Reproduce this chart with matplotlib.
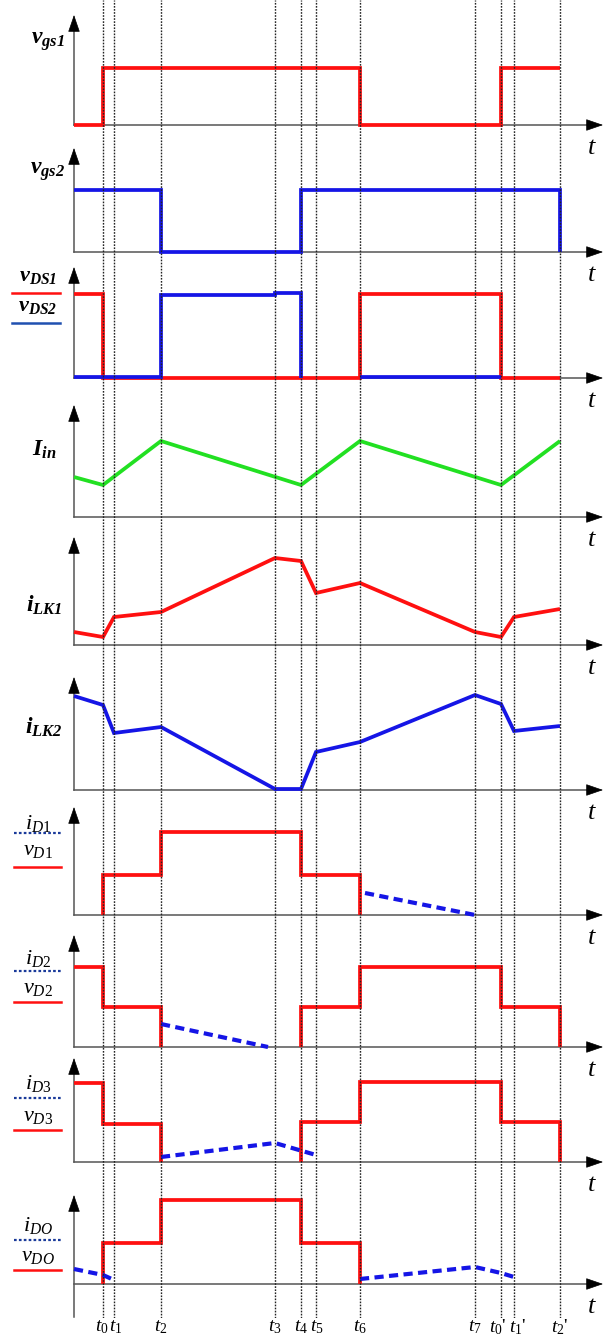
import matplotlib
matplotlib.use("Agg")
import matplotlib.pyplot as plt
import numpy as np

plt.rcParams['mathtext.fontset'] = 'custom'
plt.rcParams['mathtext.it'] = 'Liberation Serif:italic'
plt.rcParams['mathtext.rm'] = 'Liberation Serif'
plt.rcParams['mathtext.bf'] = 'Liberation Serif:italic:bold'
plt.rcParams['font.family'] = ['Liberation Serif', 'DejaVu Sans']

# ---------------- data ----------------
# time instants: start, t0, t1, t2, t3, t4, t5, t6, t7, t0', t1', t2'
T = [0, 29, 40, 87, 201, 227, 242, 286, 401, 427, 440, 486]
TMAX = 529
time_labels = [r"$t_{\mathit{0}}$", r"$t_{\mathit{1}}$", r"$t_{\mathit{2}}$",
               r"$t_{\mathit{3}}$", r"$t_{\mathit{4}}$", r"$t_{\mathit{5}}$",
               r"$t_{\mathit{6}}$", r"$t_{\mathit{7}}$", r"$t_{\mathit{0}}$'",
               r"$t_{\mathit{1}}$'", r"$t_{\mathit{2}}$'"]
s, t0, t1, t2, t3, t4, t5, t6, t7, t0p, t1p, t2p = T

# gate signals (step, steps-post)
vgs1_x = [s, t0, t6, t0p, t2p]
vgs1_y = [0, 57, 0, 57, 57]
vgs2_x = [s, t2, t4, t2p, t2p]
vgs2_y = [62, 0, 62, 0, 0]

# drain-source voltages
vds1_x = [s, t0, t6, t0p, t2p]
vds1_y = [84, 0, 84, 0, 0]
vds2_x = [s, t2, t3, t4, t4, t6, t0p]
vds2_y = [1.5, 83, 85, 0, np.nan, 1.0, 1.0]

# input current (piecewise linear)
iin_x = [s, t0, t2, t4, t6, t0p, t2p]
iin_y = [40, 32, 76, 32, 76, 32, 76]

# leakage currents
ilk1_x = [s, t0, t1, t2, t3, t4, t5, t6, t7, t0p, t1p, t2p]
ilk1_y = [13, 8, 28, 33, 87, 84, 52, 62, 13, 8, 28, 36]
ilk2_x = [s, t0, t1, t2, t3, t4, t5, t6, t7, t0p, t1p, t2p]
ilk2_y = [94, 85, 57, 63, 1, 1, 38, 48, 95, 86, 59, 64]

# diode voltages (steps-post, nan = gap)
vd1_x = [t0, t0, t2, t4, t6, t6]
vd1_y = [0, 40, 83, 40, 0, 0]
vd2_x = [s, t0, t2, t2, t4, t4, t6, t0p, t2p, t2p]
vd2_y = [80, 40, 0, np.nan, 0, 40, 80, 40, 0, 0]
vd3_x = [s, t0, t2, t2, t4, t4, t6, t0p, t2p, t2p]
vd3_y = [79, 38, 0, np.nan, 0, 40, 80, 40, 0, 0]
vdo_x = [t0, t0, t2, t4, t6, t6]
vdo_y = [0, 41, 84, 41, 0, 0]

# diode currents (dashed)
id1_x = [t6 + 5, t7]
id1_y = [22, 0]
id2_x = [t2, 194]
id2_y = [23, 0]
id3_x = [t2, t3, t5]
id3_y = [5, 19, 7]
ido_a_x = [s, t0, t1]
ido_a_y = [15, 9, 4]
ido_b_x = [t6, t7, t0p, t1p]
ido_b_y = [5, 17, 11, 7]

# ---------------- layout ----------------
W, H = 615, 1340
X0 = 74
baselines = [125, 252, 378, 517, 645, 790, 915, 1047, 1162, 1284]
tops = [15, 148, 267, 405, 537, 677, 807, 935, 1058, 1195]

RED = '#ff1010'
BLUE = '#1515e6'
GREEN = '#22e022'
LW = 2.7

fig = plt.figure(figsize=(W / 100, H / 100), dpi=100)
axes = []
for i, (b, tp) in enumerate(zip(baselines, tops)):
    h = b - tp
    ax = fig.add_axes([X0 / W, 1 - b / H, TMAX / W, h / H])
    ax.set_xlim(0, TMAX)
    ax.set_ylim(0, h)
    ax.axis('off')
    ybot = -33 if i == len(baselines) - 1 else 0
    ax.plot([0, TMAX - 10], [0, 0], color='#555555', lw=1.1, clip_on=False, zorder=1)
    ax.plot([0, 0], [ybot, h - 8], color='#555555', lw=1.1, clip_on=False, zorder=1)
    ax.annotate('', xy=(TMAX, 0), xytext=(TMAX - 16, 0),
                arrowprops=dict(arrowstyle='-|>,head_length=1.1,head_width=0.38',
                                color='black', lw=0.5, shrinkA=0, shrinkB=0),
                annotation_clip=False)
    ax.annotate('', xy=(0, h), xytext=(0, h - 16),
                arrowprops=dict(arrowstyle='-|>,head_length=1.1,head_width=0.38',
                                color='black', lw=0.5, shrinkA=0, shrinkB=0),
                annotation_clip=False)
    ax.text(TMAX - 11, -23, r'$t$', fontsize=19, ha='center', va='center')
    axes.append(ax)

a1, a2, a3, a4, a5, a6, a7, a8, a9, a10 = axes

kw = dict(lw=LW, clip_on=False, solid_capstyle='butt', solid_joinstyle='miter', zorder=3)
dkw = dict(lw=LW + 0.3, clip_on=False, linestyle=(0, (2.2, 1.3)), color=BLUE, zorder=4)

a1.plot(vgs1_x, vgs1_y, color=RED, drawstyle='steps-post', **kw)
a2.plot(vgs2_x, vgs2_y, color=BLUE, drawstyle='steps-post', **kw)
a3.plot(vds1_x, vds1_y, color=RED, drawstyle='steps-post', **kw)
a3.plot(vds2_x, vds2_y, color=BLUE, drawstyle='steps-post', **kw)
a4.plot(iin_x, iin_y, color=GREEN, **kw)
a5.plot(ilk1_x, ilk1_y, color=RED, **kw)
a6.plot(ilk2_x, ilk2_y, color=BLUE, **kw)
a7.plot(vd1_x, vd1_y, color=RED, drawstyle='steps-post', **kw)
a7.plot(id1_x, id1_y, **dkw)
a8.plot(vd2_x, vd2_y, color=RED, drawstyle='steps-post', **kw)
a8.plot(id2_x, id2_y, **dkw)
a9.plot(vd3_x, vd3_y, color=RED, drawstyle='steps-post', **kw)
a9.plot(id3_x, id3_y, **dkw)
a10.plot(vdo_x, vdo_y, color=RED, drawstyle='steps-post', **kw)
a10.plot(ido_a_x, ido_a_y, **dkw)
a10.plot(ido_b_x, ido_b_y, **dkw)

# ---------------- labels ----------------
BIG = 17
a1.text(-26, 83, r'$\mathbf{v}_{\mathbf{gs1}}$', fontsize=BIG, ha='center', va='center')
a2.text(-26, 80, r'$\mathbf{v}_{\mathbf{gs2}}$', fontsize=BIG, ha='center', va='center')
a4.text(-30, 67, r'$\mathbf{I}_{\mathbf{in}}$', fontsize=BIG, ha='center', va='center')
a5.text(-30, 40, r'$\mathbf{i}_{\mathbf{LK1}}$', fontsize=BIG, ha='center', va='center')
a6.text(-30, 63, r'$\mathbf{i}_{\mathbf{LK2}}$', fontsize=BIG, ha='center', va='center')

# vDS legend
a3.text(-36, 101, r'$\mathbf{v}_{\mathbf{DS1}}$', fontsize=BIG - 1, ha='center', va='center')
a3.plot([-62, -14], [85, 85], color=RED, lw=1.8, clip_on=False)
a3.text(-36, 71, r'$\mathbf{v}_{\mathbf{DS2}}$', fontsize=BIG - 1, ha='center', va='center')
a3.plot([-62, -14], [55, 55], color='#2050b0', lw=1.8, clip_on=False)

diode_legends = [
    (a7, r'$i_{D1}$', r'$v_{D1}$', 92, 82, 65, 48),
    (a8, r'$i_{D2}$', r'$v_{D2}$', 89, 76, 59, 45),
    (a9, r'$i_{D3}$', r'$v_{D3}$', 79, 64, 45, 32),
    (a10, r'$i_{DO}$', r'$v_{DO}$', 58, 44, 27, 14),
]
for ax, il, vl, yi, ydot, yv, yred in diode_legends:
    ax.text(-36, yi, il, fontsize=16, ha='center', va='center')
    ax.plot([-60, -13], [ydot, ydot], color='#1a3a9a', lw=1.6,
            linestyle=(0, (1.2, 1.0)), clip_on=False)
    ax.text(-36, yv, vl, fontsize=16, ha='center', va='center')
    ax.plot([-60, -13], [yred, yred], color=RED, lw=1.8, clip_on=False)

label_shift = [-1, 2, 0, 0, 0, 1, 0, 0, -3, 4, 0]
for tt, lab, dx in zip(T[1:], time_labels, label_shift):
    a10.text(tt + dx, -43, lab, fontsize=14, ha='center', va='center')

# ---------------- dotted time markers ----------------
ov = fig.add_axes([X0 / W, 1 - 1318 / H, TMAX / W, 1318 / H])
ov.set_xlim(0, TMAX)
ov.set_ylim(0, 1)
ov.axis('off')
ov.patch.set_alpha(0)
for tt in T[1:]:
    ov.axvline(tt, color='#222222', lw=1.0, linestyle=(0, (1.2, 1.0)))

fig.savefig('out.png', dpi=100)
